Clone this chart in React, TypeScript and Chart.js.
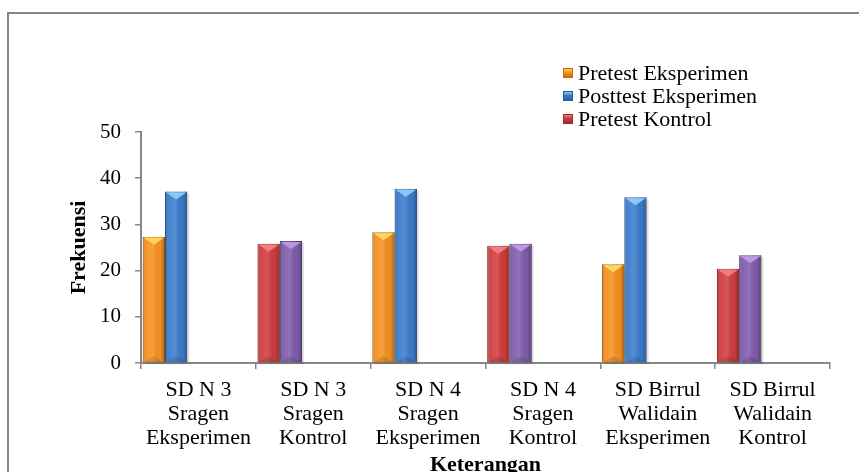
import React, { useEffect, useRef } from "react";
import { Chart, registerables } from "chart.js";

Chart.register(...registerables);

const categories: string[][] = [
  ["SD N 3", "Sragen", "Eksperimen"],
  ["SD N 3", "Sragen", "Kontrol"],
  ["SD N 4", "Sragen", "Eksperimen"],
  ["SD N 4", "Sragen", "Kontrol"],
  ["SD Birrul", "Walidain", "Eksperimen"],
  ["SD Birrul", "Walidain", "Kontrol"],
];

const pretestEksperimen = [27.3, null, 28.3, null, 21.4, null];
const posttestEksperimen = [37.1, null, 37.7, null, 35.9, null];
const pretestKontrol = [null, 25.8, null, 25.4, null, 20.4];
const posttestKontrol = [null, 26.4, null, 25.8, null, 23.3];

const seriesNames = ["Pretest Eksperimen", "Posttest Eksperimen", "Pretest Kontrol", "Posttest Kontrol"];
const legendShown = ["Pretest Eksperimen", "Posttest Eksperimen", "Pretest Kontrol"];

const yMin = 0;
const yMax = 50;
const yStep = 10;

const BASE = ["#F5901F", "#3A7BCB", "#CF3B3C", "#7E5BAA"];
const DARK = ["#C86A0C", "#2A5E9E", "#9E2A2B", "#5D3F82"];
const LIGHT = ["#FFD65A", "#8CC8F6", "#F27B7B", "#BB98E6"];

const FONT = "'Liberation Serif', 'Times New Roman', serif";
const AXIS = "#878787";

const bevelPlugin = {
  id: "bevel",
  beforeDatasetsDraw(chart: any) {
    const ctx = chart.ctx;
    chart.data.datasets.forEach((ds: any, di: number) => {
      if (di > 3) return;
      const meta = chart.getDatasetMeta(di);
      meta.data.forEach((el: any, i: number) => {
        if (ds.data[i] == null) return;
        const { x, y, base, width } = el.getProps(["x", "y", "base", "width"], true);
        ctx.save();
        ctx.fillStyle = "rgba(0,0,0,0.12)";
        ctx.fillRect(x - width / 2 + 2, y + 2, width, base - y);
        ctx.restore();
      });
    });
  },
  afterDatasetsDraw(chart: any) {
    const ctx = chart.ctx;
    chart.data.datasets.forEach((ds: any, di: number) => {
      if (di > 3) return;
      const meta = chart.getDatasetMeta(di);
      meta.data.forEach((el: any, i: number) => {
        if (ds.data[i] == null) return;
        const { x, y, base, width } = el.getProps(["x", "y", "base", "width"], true);
        const l = x - width / 2;
        const r = x + width / 2;
        const h = base - y;
        ctx.save();
        const g = ctx.createLinearGradient(l, 0, r, 0);
        g.addColorStop(0, "rgba(0,0,0,0.22)");
        g.addColorStop(0.15, "rgba(255,255,255,0.06)");
        g.addColorStop(0.45, "rgba(255,255,255,0.14)");
        g.addColorStop(0.8, "rgba(0,0,0,0.02)");
        g.addColorStop(1, "rgba(0,0,0,0.3)");
        ctx.fillStyle = g;
        ctx.fillRect(l, y, width, h);
        const cap = Math.min(8, h / 3);
        ctx.fillStyle = LIGHT[di];
        ctx.beginPath();
        ctx.moveTo(l + 1, y + 1);
        ctx.lineTo(r - 1, y + 1);
        ctx.lineTo(x, y + cap);
        ctx.closePath();
        ctx.fill();
        ctx.fillStyle = "rgba(0,0,0,0.12)";
        ctx.beginPath();
        ctx.moveTo(l + 1, base);
        ctx.lineTo(r - 1, base);
        ctx.lineTo(x, base - 6);
        ctx.closePath();
        ctx.fill();
        ctx.restore();
      });
    });
  },
};

export default function App() {
  const ref = useRef<HTMLCanvasElement | null>(null);

  useEffect(() => {
    if (!ref.current) return;
    const mk = (label: string, data: (number | null)[], idx: number, stack: string) => ({
      label,
      data,
      stack,
      backgroundColor: BASE[idx],
      borderColor: DARK[idx],
      borderWidth: 1,
      categoryPercentage: 0.97,
      barPercentage: 1,
    });
    const dummy = (s: string) => ({
      label: s,
      data: categories.map(() => null),
      stack: s,
      categoryPercentage: 0.97,
      barPercentage: 1,
    });
    const chart = new Chart(ref.current, {
      type: "bar",
      data: {
        labels: categories,
        datasets: [
          mk(seriesNames[0], pretestEksperimen, 0, "pre"),
          mk(seriesNames[1], posttestEksperimen, 1, "post"),
          mk(seriesNames[2], pretestKontrol, 2, "pre"),
          mk(seriesNames[3], posttestKontrol, 3, "post"),
          dummy("d1"),
          dummy("d2"),
          dummy("d3"),
        ] as any,
      },
      options: {
        animation: false,
        responsive: false,
        devicePixelRatio: 1,
        layout: { padding: { left: 66, right: 29, top: 132, bottom: 0 } },
        plugins: {
          legend: { display: false },
          tooltip: { enabled: false },
        },
        scales: {
          x: {
            stacked: true,
            afterFit: (s: any) => {
              s.height = 117;
            },
            grid: { drawOnChartArea: false, drawTicks: true, tickLength: 6, color: AXIS, lineWidth: 1.5 },
            border: { color: AXIS, width: 2 },
            ticks: {
              color: "#000",
              padding: 9,
              maxRotation: 0,
              autoSkip: false,
              font: { family: FONT, size: 22, lineHeight: 1.1 },
            },
            title: {
              display: true,
              text: "Keterangan",
              color: "#000",
              font: { family: FONT, size: 22, weight: "bold", lineHeight: 1.2 },
              padding: { top: 0, bottom: 1 },
            },
          },
          y: {
            stacked: true,
            min: yMin,
            max: yMax,
            afterFit: (s: any) => {
              s.width = 75;
            },
            grid: { drawOnChartArea: false, drawTicks: true, tickLength: 6, color: AXIS, lineWidth: 1.5 },
            border: { color: AXIS, width: 2 },
            ticks: {
              stepSize: yStep,
              color: "#000",
              padding: 14,
              font: { family: FONT, size: 21 },
            },
            title: {
              display: true,
              text: "Frekuensi",
              color: "#000",
              font: { family: FONT, size: 22, weight: "bold", lineHeight: 1.2 },
              padding: { top: 0, bottom: 0 },
            },
          },
        },
      } as any,
      plugins: [bevelPlugin as any],
    });
    return () => chart.destroy();
  }, []);

  return (
    <div
      style={{
        position: "fixed",
        left: 0,
        top: 0,
        width: 859,
        height: 472,
        overflow: "hidden",
        background: "#fff",
      }}
    >
      <div
        style={{
          position: "absolute",
          left: 7,
          top: 12,
          width: 900,
          height: 500,
          border: `2px solid ${AXIS}`,
          boxSizing: "border-box",
        }}
      />
      <canvas
        ref={ref}
        width={859}
        height={480}
        style={{ position: "absolute", left: 0, top: 0, width: 859, height: 480 }}
      />
      <div
        style={{
          position: "absolute",
          left: 563,
          top: 61,
          fontFamily: FONT,
          fontSize: 22,
          lineHeight: "23px",
          color: "#000",
          whiteSpace: "nowrap",
        }}
      >
        {legendShown.map((name, i) => (
          <div key={name} style={{ display: "flex", alignItems: "center", height: 23 }}>
            <span
              style={{
                display: "inline-block",
                width: 10,
                height: 10,
                marginRight: 5,
                boxSizing: "border-box",
                border: `1px solid ${DARK[i]}`,
                background: `linear-gradient(to bottom, ${LIGHT[i]} 0%, ${BASE[i]} 45%, ${DARK[i]} 100%)`,
              }}
            />
            <span>{name}</span>
          </div>
        ))}
      </div>
    </div>
  );
}
